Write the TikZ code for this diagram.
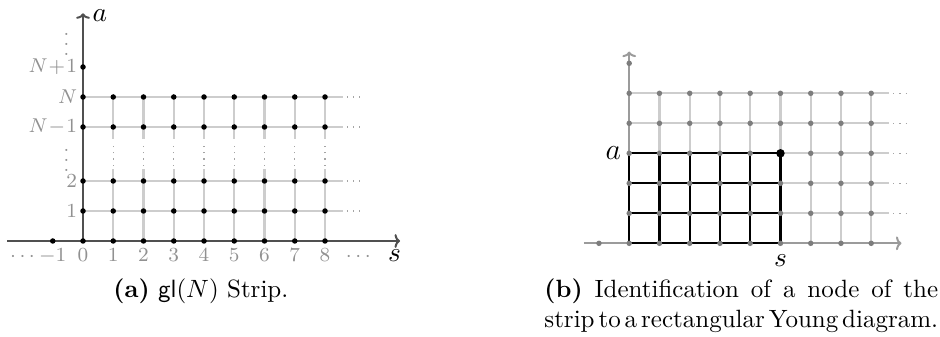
\documentclass[tikz,border=0pt]{standalone}
\usetikzlibrary{arrows.meta}
\definecolor{axisdark}{RGB}{80,80,80}
\definecolor{axislight}{RGB}{155,155,155}
\definecolor{gridgray}{RGB}{205,205,205}
\definecolor{tickgray}{RGB}{145,145,145}
\definecolor{dotgray}{RGB}{125,125,125}

\begin{document}
\begin{tikzpicture}[x=12.1pt,y=12pt,
    axis/.style={line width=0.8pt,-{To[length=2.2pt,width=5.5pt]}},
    gridline/.style={gridgray,line width=0.9pt},
    contdots/.style={gridgray!80!black,line width=0.5pt,dotted},
    ticklbl/.style={text=tickgray,font=\fontsize{7.6}{9}\selectfont,inner sep=0pt},
    axislbl/.style={font=\fontsize{11}{13}\selectfont,inner sep=0pt},
    dot/.style={circle,fill,inner sep=0pt,minimum size=2.2pt},
    bigdot/.style={circle,fill,inner sep=0pt,minimum size=3.4pt}]
  \useasboundingbox (0,0) rectangle (31.074,11.2);

  % (a) the strip
  \begin{scope}[shift={(2.744,3.167)}]
    \coordinate (aO) at (0,0);
    \coordinate (aW) at (-2.5,0);
    \coordinate (aE) at (10.48,0);
    \coordinate (aN) at (0,7.59);
    \foreach \y in {1,2,3.8,4.8}
      {\draw[gridline] (0,\y) -- (8.6,\y);
       \draw[contdots] (8.72,\y) -- (9.15,\y);}
    \foreach \x in {1,...,8}
      {\draw[gridline] (\x,0) -- (\x,2.4);
       \draw[contdots] (\x,2.5) -- (\x,3.3);
       \draw[gridline] (\x,3.4) -- (\x,4.8);}
    \draw[axis,axisdark] (aW) -- (aE);
    \draw[axis,axisdark] (aO) -- (aN);
    \node[axislbl,anchor=west] (alblA) at (0.3,7.5) {$a$};
    \node[axislbl,anchor=base] (alblS) at (10.3,-0.7) {$s$};
    % dots
    \node[dot] (am) at (-1,0) {};
    \foreach \x in {0,...,8}
      \foreach \y in {0,1,2,3.8,4.8}
        \node[dot] at (\x,\y) {};
    \node[dot] (atop) at (0,5.8) {};
    % tick labels
    \node[ticklbl,anchor=base] (adl) at (-2,-0.68) {$\cdots$};
    \node[ticklbl,anchor=base] (at-1) at (-1,-0.68) {$-1$};
    \foreach \x in {0,...,8}
      \node[ticklbl,anchor=base] (at\x) at (\x,-0.68) {$\x$};
    \node[ticklbl,anchor=base] (adr) at (9.1,-0.68) {$\cdots$};
    \foreach \y/\lbl in {1/1,2/2,3.8/N\!-\!1,4.8/N,5.8/N\!+\!1}
      \node[ticklbl,anchor=east] at (-0.18,\y) {$\lbl$};
    \node[ticklbl,anchor=base] (avu) at (-0.55,6.18) {$\vdots$};
    \node[ticklbl,anchor=base] (avd) at (-0.55,2.3) {$\vdots$};
  \end{scope}
  \node[anchor=base] (capA) at (6.64,1.3)
    {\textbf{(a)} $\mathsf{gl}(N)$ Strip.};

  % (b) node <-> rectangular Young diagram
  \begin{scope}[shift={(20.8,3.09)}]
    \coordinate (bO) at (0,0);
    \coordinate (bW) at (-1.5,0);
    \coordinate (bE) at (9.0,0);
    \coordinate (bN) at (0,6.39);
    \foreach \y in {1,...,5}
      {\draw[gridline] (0,\y) -- (8.6,\y);
       \draw[contdots] (8.72,\y) -- (9.15,\y);}
    \foreach \x in {1,...,8}
      \draw[gridline] (\x,0) -- (\x,5);
    \draw[axis,axislight] (bW) -- (bE);
    \draw[axis,axislight] (bO) -- (bN);
    % young diagram
    \foreach \x in {0,...,5}
      \draw[black,line width=0.9pt] (\x,0) -- (\x,3);
    \foreach \y in {0,...,3}
      \draw[black,line width=0.9pt] (0,\y) -- (5,\y);
    \node[dot,dotgray] (bm) at (-1,0) {};
    \foreach \x in {0,...,8}
      \foreach \y in {0,...,5}
        \node[dot,dotgray] at (\x,\y) {};
    \node[dot,dotgray] (btop) at (0,6) {};
    \node[bigdot] (bsa) at (5,3) {};
    \node[axislbl,anchor=east,font=\fontsize{12}{14}\selectfont] (blblA) at (-0.25,3) {$a$};
    \node[axislbl,anchor=north] (blblS) at (5,-0.35) {$s$};
  \end{scope}
  \node[anchor=base west,inner sep=0pt,text width=157.5pt,align=left] (capB) at (17.98,1.3)
    {\spaceskip=2.1pt plus 8pt minus 1pt
     \makebox[157.5pt][s]{\textbf{(b)} Identification of a node of the}\par
     \makebox[157.5pt][s]{strip to a rectangular Young diagram.}};
\end{tikzpicture}
\end{document}
